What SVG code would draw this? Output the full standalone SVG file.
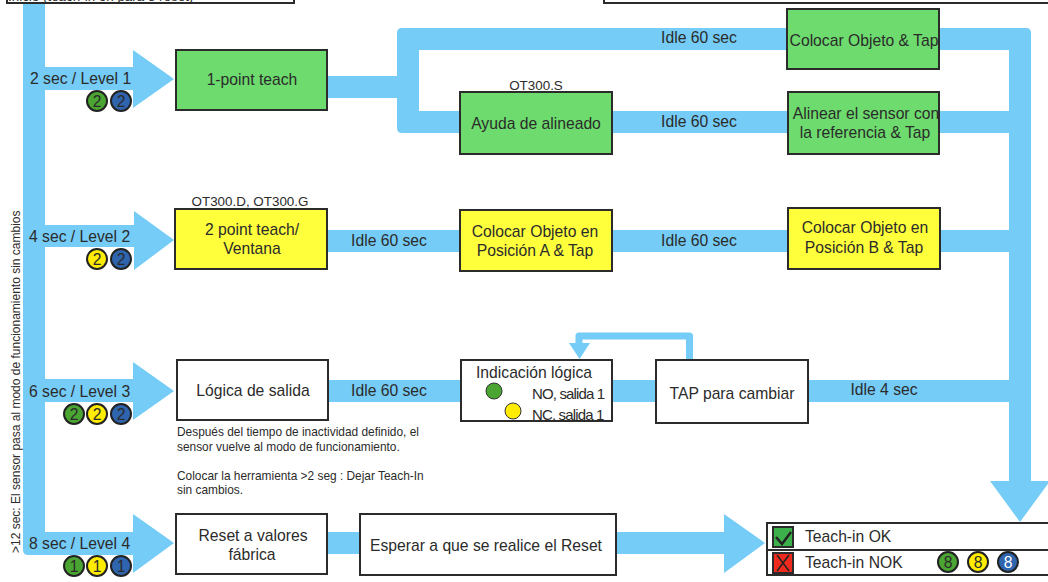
<svg xmlns="http://www.w3.org/2000/svg" width="1048" height="582" viewBox="0 0 1048 582">
<defs>
<style>
text{font-family:"Liberation Sans",Arial,sans-serif;fill:#2b2b2b;font-size:15.700px}
.m{text-anchor:middle}
.s{font-size:11.900px}
.o{font-size:13.400px}
.box{stroke:#2b2b2b;stroke-width:2}
.g{fill:#6ddb6d}.y{fill:#ffff3c}.w{fill:#fff}
.flow{fill:#75ccf7}
.loop{fill:none;stroke:#75ccf7;stroke-width:7;stroke-linejoin:round}
.b{stroke:#222;stroke-width:2}
.bg{fill:#4aa532}.by{fill:#ffec00}.bb{fill:#2f64ae}
.n{text-anchor:middle;font-size:15.700px}
.t{font-size:15px;letter-spacing:-.85px}
.r{font-size:12px}
</style>
</defs>
<rect width="1048" height="582" fill="#fff"/>
<g id="connectors">
<path class="flow" d="M23 4H45V67H133V50L174 79L133 108V90H45V225H134V211L174 240L134 270V247H45V379H133V362L174 391L133 420V402H45V532H133V514L174 543L133 573V555H28Q23 555 23 550Z"/>
<path class="flow" d="M327 76H397V33Q397 28 402 28H1026Q1031 28 1031 33V481H1050L1020 522L990 481H1009V50H419V111H1010V133H402Q397 133 397 128V98H327Z"/>
<rect class="flow" x="327" y="230" width="683" height="22"/>
<rect class="flow" x="328" y="380" width="682" height="22"/>
<path class="flow" d="M327 532H724V514L765 543L724 573V554H327Z"/>
<path class="loop" d="M689.500 360V336H579V345"/>
<path class="flow" d="M569 343H590L579.500 359Z"/>
</g>
<g id="n-top-left"><rect class="box w" x="7" y="-20" width="287" height="23"/><text class="o" x="8" y="1">Inicio (teach-in on para 8 reset)</text></g>
<g id="n-top-right"><rect class="box w" x="604" y="-20" width="450" height="23"/></g>
<g id="n-side"><text class="r" transform="translate(20 553) rotate(-90)">&gt;12 sec: El sensor pasa al modo de funcionamiento sin cambios</text></g>
<g id="n-level1"><text x="30" y="84">2 sec / Level 1</text>
<circle class="b bg" cx="97" cy="101" r="10"/><circle class="b bb" cx="121" cy="101" r="10"/><text class="n" x="97" y="106.500">2</text><text class="n" x="121" y="106.500">2</text></g>
<g id="n-level2"><text x="29" y="242">4 sec / Level 2</text>
<circle class="b by" cx="97" cy="259" r="10"/><circle class="b bb" cx="121" cy="259" r="10"/><text class="n" x="97" y="264.500">2</text><text class="n" x="121" y="264.500">2</text></g>
<g id="n-level3"><text x="29" y="397">6 sec / Level 3</text>
<circle class="b bg" cx="74" cy="414" r="10"/><circle class="b by" cx="97" cy="414" r="10"/><circle class="b bb" cx="121" cy="414" r="10"/><text class="n" x="74" y="419.500">2</text><text class="n" x="97" y="419.500">2</text><text class="n" x="121" y="419.500">2</text></g>
<g id="n-level4"><text x="29" y="549">8 sec / Level 4</text>
<circle class="b bg" cx="74" cy="566" r="10"/><circle class="b by" cx="97" cy="566" r="10"/><circle class="b bb" cx="121" cy="566" r="10"/><text class="n" x="74" y="571.500">1</text><text class="n" x="97" y="571.500">1</text><text class="n" x="121" y="571.500">1</text></g>
<g id="n-idle">
<text class="m" x="699" y="43">Idle 60 sec</text>
<text class="m" x="699" y="127">Idle 60 sec</text>
<text class="m" x="389" y="246">Idle 60 sec</text>
<text class="m" x="699" y="246">Idle 60 sec</text>
<text class="m" x="389" y="396">Idle 60 sec</text>
<text class="m" x="884" y="395">Idle 4 sec</text>
</g>
<g id="n-1point"><rect class="box g" x="176" y="50" width="151" height="60"/><text class="m" x="252" y="85">1-point teach</text></g>
<g id="n-ayuda"><rect class="box g" x="460" y="92" width="152" height="62"/><text class="o m" x="536" y="90">OT300.S</text><text class="m" x="536" y="129">Ayuda de alineado</text></g>
<g id="n-colocar"><rect class="box g" x="787" y="9" width="152" height="60"/><text class="m" x="864" y="46">Colocar Objeto &amp; Tap</text></g>
<g id="n-alinear"><rect class="box g" x="788" y="92" width="151" height="62"/><text class="m" x="866" y="119">Alinear el sensor con</text><text class="m" x="865" y="138">la referencia &amp; Tap</text></g>
<g id="n-2point"><rect class="box y" x="175" y="209" width="152" height="60"/><text class="o m" x="250" y="206">OT300.D, OT300.G</text><text class="m" x="252" y="235">2 point teach/</text><text class="m" x="252" y="254">Ventana</text></g>
<g id="n-posa"><rect class="box y" x="460" y="210" width="152" height="61"/><text class="m" x="535" y="237">Colocar Objeto en</text><text class="m" x="535" y="256">Posición A &amp; Tap</text></g>
<g id="n-posb"><rect class="box y" x="788" y="208" width="152" height="61"/><text class="m" x="865" y="233">Colocar Objeto en</text><text class="m" x="864" y="253">Posición B &amp; Tap</text></g>
<g id="n-logica"><rect class="box w" x="177" y="360" width="151" height="60"/><text class="m" x="253" y="396">Lógica de salida</text>
<text class="s" x="177" y="436">Después del tiempo de inactividad definido, el</text><text class="s" x="177" y="451">sensor vuelve al modo de funcionamiento.</text><text class="s" x="177" y="480">Colocar la herramienta &gt;2 seg : Dejar Teach-In</text><text class="s" x="177" y="494">sin cambios.</text></g>
<g id="n-indicacion"><rect class="box w" x="461" y="360" width="151" height="61"/><text class="m" x="534" y="378">Indicación lógica</text>
<circle cx="494" cy="391" r="8" fill="#4aa532" stroke="#333"/><circle cx="513" cy="411" r="8" fill="#ffec00" stroke="#333"/>
<text class="t" x="532" y="399">NO, salida 1</text><text class="t" x="532" y="420">NC, salida 1</text></g>
<g id="n-tap"><rect class="box w" x="656" y="360" width="152" height="63"/><text class="m" x="732" y="399">TAP para cambiar</text></g>
<g id="n-reset"><rect class="box w" x="176" y="514" width="151" height="60"/><text class="m" x="253" y="541">Reset a valores</text><text class="m" x="252" y="560">fábrica</text></g>
<g id="n-esperar"><rect class="box w" x="360" y="514" width="256" height="61"/><text class="m" x="486" y="551">Esperar a que se realice el Reset</text></g>
<g id="n-legend"><rect class="box w" x="767" y="523" width="290" height="52"/><path d="M767 550H1048" stroke="#2b2b2b" stroke-width="2"/>
<rect class="box" x="773" y="527" width="20" height="20" fill="#3cb04b"/><path d="M776 537L782 544L791 532" fill="none" stroke="#222" stroke-width="2.500"/>
<rect class="box" x="773" y="553" width="20" height="20" fill="#ee2a1e"/><path d="M777 555L789 571M789 555L777 571" fill="none" stroke="#222" stroke-width="1.500"/>
<text x="805" y="542">Teach-in OK</text><text x="805" y="568">Teach-in NOK</text>
<circle class="b bg" cx="948" cy="562" r="10"/><circle class="b by" cx="978" cy="562" r="10"/><circle class="b bb" cx="1008" cy="562" r="10"/>
<text class="n" x="948" y="567.500">8</text><text class="n" x="978" y="567.500">8</text><text class="n" x="1008" y="567.500" style="fill:#fff">8</text></g>
</svg>
